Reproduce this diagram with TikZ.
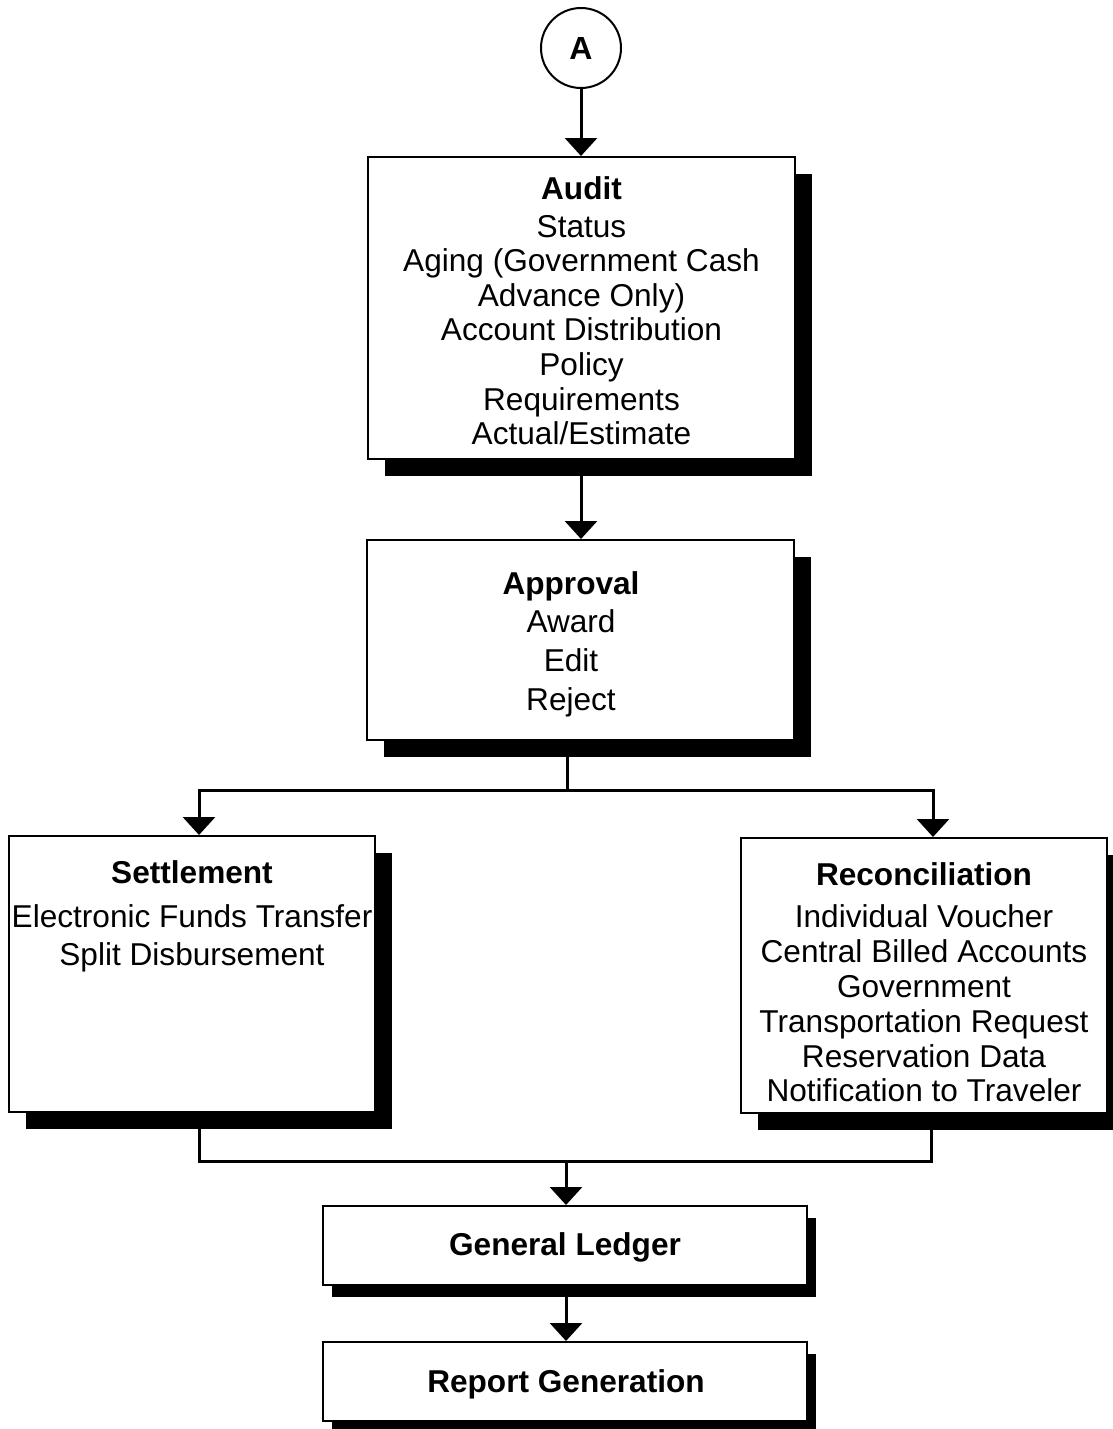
\documentclass[tikz,border=0pt]{standalone}
\usepackage{fontspec}
\setmainfont{Liberation Sans}
\usetikzlibrary{arrows.meta,shadows}
\begin{document}
\begin{tikzpicture}[x=1pt,y=-1pt,
  boxbase/.style={draw=black, line width=2pt, fill=white, inner sep=0pt},
  bigshadow/.style={drop shadow={shadow xshift=17pt, shadow yshift=-17pt, fill=black, opacity=1}},
  smallshadow/.style={drop shadow={shadow xshift=9pt, shadow yshift=-12pt, fill=black, opacity=1}},
  conn/.style={line width=3pt},
  arr/.style={conn, -{Triangle[width=32pt,length=18pt]}},
  txt/.style={align=center, inner sep=0pt, anchor=north}
]
\useasboundingbox (0,0) rectangle (1113,1429);

% start connector
\node[circle, draw, line width=2pt, minimum size=80pt, inner sep=0pt,
      font=\fontsize{32}{35}\selectfont\bfseries] (A) at (581,48) {A};

% boxes
\node[boxbase, bigshadow, minimum width=427pt, minimum height=302pt] (audit) at (581.5,308) {};
\node[boxbase, bigshadow, minimum width=427pt, minimum height=200pt] (approval) at (580.5,640) {};
\node[boxbase, bigshadow, minimum width=366pt, minimum height=276pt] (settle) at (192,974) {};
\node[boxbase, bigshadow, minimum width=366pt, minimum height=275pt] (recon) at (924,975.5) {};
\node[boxbase, smallshadow, minimum width=484pt, minimum height=79pt] (gl) at (565,1245.5) {};
\node[boxbase, smallshadow, minimum width=484pt, minimum height=79pt] (rg) at (565,1381.5) {};

% texts
\node[txt, font=\fontsize{31.6}{34.6}\selectfont] (audittxt) at (581.5,176)
  {\textbf{Audit}\\[3.4pt] Status\\ Aging (Government Cash\\ Advance Only)\\ Account Distribution\\ Policy\\ Requirements\\ Actual/Estimate};
\node[txt, font=\fontsize{31.6}{38.7}\selectfont] (approvaltxt) at (571,571)
  {\textbf{Approval}\\ Award\\ Edit\\ Reject};
\node[txt, font=\fontsize{31.6}{38}\selectfont] (settletxt) at (192,860)
  {\textbf{Settlement}\\[6pt] Electronic Funds Transfer\\ Split Disbursement};
\node[txt, font=\fontsize{31.6}{34.8}\selectfont] (recontxt) at (924,862)
  {\textbf{Reconciliation}\\[8pt] Individual Voucher\\ Central Billed Accounts\\ Government\\ Transportation Request\\ Reservation Data\\ Notification to Traveler};
\node[txt, font=\fontsize{31.6}{35}\selectfont\bfseries] (gltxt) at (565,1232) {General Ledger};
\node[txt, font=\fontsize{31.6}{35}\selectfont\bfseries] (rgtxt) at (566,1369) {Report Generation};

% connectors
\coordinate (j1) at (567,790);
\coordinate (j2) at (566,1161);
\draw[arr] (A.south) -- (A.south |- audit.north);
\draw[arr] (A.south |- audit.south) -- (A.south |- approval.north);
\draw[conn] (approval.south -| j1) -- (j1);
\draw[arr] (j1) -| ([xshift=7pt]settle.north);
\draw[arr] (j1) -| ([xshift=9pt]recon.north);
\draw[conn] ([xshift=7pt]settle.south) |- (j2) -| ([xshift=7pt]recon.south);
\draw[arr] (j2) -- (j2 |- gl.north);
\draw[arr] (gl.south -| j2) -- (j2 |- rg.north);
\end{tikzpicture}
\end{document}
